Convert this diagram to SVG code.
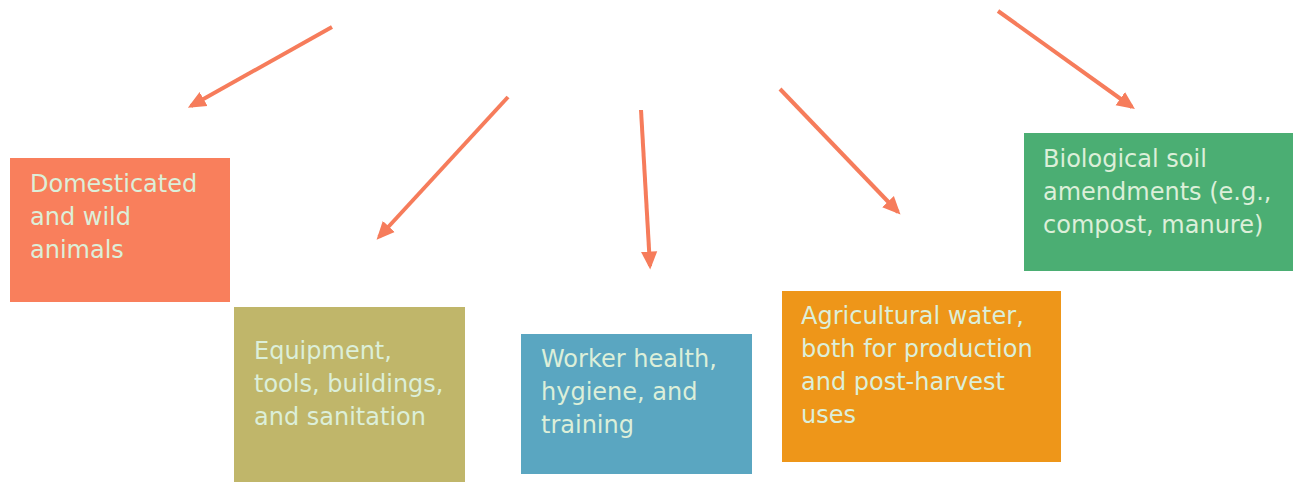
<svg xmlns="http://www.w3.org/2000/svg" width="1293" height="482" viewBox="0 0 1293 482">
  <style>
    .box text { font-family: "DejaVu Sans", "Liberation Sans", sans-serif; font-size: 24px; fill: #DCEFD9; }
    .link { stroke: #F67C5B; stroke-width: 4; fill: none; marker-end: url(#head); }
  </style>
  <defs>
    <marker id="head" viewBox="0 0 10 10" refX="8" refY="5" markerWidth="4.5" markerHeight="4.5" orient="auto" markerUnits="strokeWidth">
      <path d="M0,0.5 L10,5 L0,9.5 z" fill="#F67C5B"/>
    </marker>
  </defs>
  <rect width="1293" height="482" fill="#FFFFFF"/>

  <g id="connectors">
    <line class="link" x1="332" y1="27" x2="191" y2="106"/>
    <line class="link" x1="508" y1="97" x2="379" y2="237"/>
    <line class="link" x1="641" y1="110" x2="650" y2="266"/>
    <line class="link" x1="780" y1="89" x2="898" y2="212"/>
    <line class="link" x1="998" y1="11" x2="1132" y2="107"/>
  </g>

  <g id="animals" class="box">
    <rect x="10" y="158" width="220" height="144" fill="#F97F5C"/>
    <text x="30" y="192">Domesticated</text>
    <text x="30" y="225">and wild</text>
    <text x="30" y="258">animals</text>
  </g>

  <g id="equipment" class="box">
    <rect x="234" y="307" width="231" height="175" fill="#C0B66A"/>
    <text x="254" y="359">Equipment,</text>
    <text x="254" y="392">tools, buildings,</text>
    <text x="254" y="425">and sanitation</text>
  </g>

  <g id="worker" class="box">
    <rect x="521" y="334" width="231" height="140" fill="#5AA6C1"/>
    <text x="541" y="367">Worker health,</text>
    <text x="541" y="400">hygiene, and</text>
    <text x="541" y="433">training</text>
  </g>

  <g id="water" class="box">
    <rect x="782" y="291" width="279" height="171" fill="#EE9619"/>
    <text x="801" y="324">Agricultural water,</text>
    <text x="801" y="357">both for production</text>
    <text x="801" y="390">and post-harvest</text>
    <text x="801" y="423">uses</text>
  </g>

  <g id="soil" class="box">
    <rect x="1024" y="133" width="269" height="138" fill="#4BAE73"/>
    <text x="1043" y="167">Biological soil</text>
    <text x="1043" y="200">amendments (e.g.,</text>
    <text x="1043" y="233">compost, manure)</text>
  </g>
</svg>
